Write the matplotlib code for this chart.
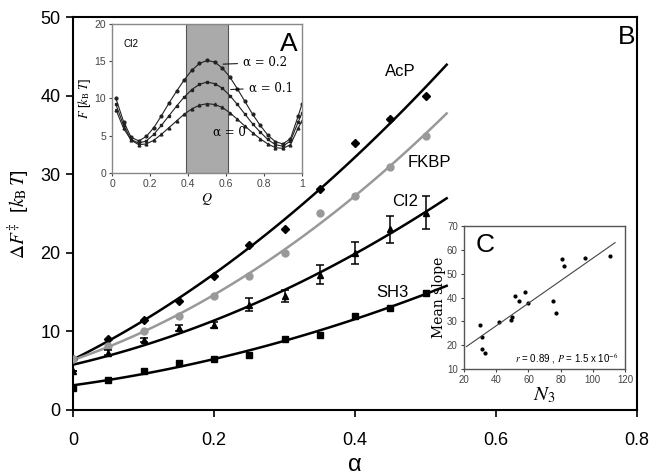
import numpy as np
import matplotlib
matplotlib.use('Agg')
import matplotlib.pyplot as plt
from matplotlib.patches import Rectangle

plt.rcParams['font.family'] = ['Liberation Sans', 'DejaVu Sans']
plt.rcParams['mathtext.fontset'] = 'stix'

# main panel B: barrier height vs alpha
alpha = [0, 0.05, 0.1, 0.15, 0.2, 0.25, 0.3, 0.35, 0.4, 0.45, 0.5]
acp = [6.5, 9.0, 11.5, 13.9, 17.0, 21.0, 23.0, 28.1, 34.0, 37.0, 40.0]
fkbp = [6.5, 8.1, 10.0, 12.0, 14.5, 17.0, 20.0, 25.1, 27.2, 31.0, 34.9]
ci2 = [5.0, 7.3, 8.9, 10.4, 10.8, 13.4, 14.5, 17.2, 20.0, 23.0, 25.1]
ci2_err = [0, 0.3, 0.3, 0.4, 0.4, 0.85, 0.75, 1.2, 1.4, 1.7, 2.1]
sh3 = [2.8, 3.8, 5.0, 6.0, 6.5, 7.0, 9.0, 9.5, 12.0, 13.0, 14.9]

# inset A: free energy profiles of CI2
q = [0.02, 0.06, 0.10, 0.14, 0.18, 0.22, 0.26, 0.30, 0.34, 0.38, 0.42, 0.46, 0.50,
     0.54, 0.58, 0.62, 0.66, 0.70, 0.74, 0.78, 0.82, 0.86, 0.90, 0.94, 0.98, 1.0]
f_a0 = [8.5, 6.0, 4.4, 3.8, 3.9, 4.4, 5.2, 6.1, 7.0, 7.9, 8.6, 9.1, 9.3,
        9.2, 8.8, 8.1, 7.2, 6.3, 5.4, 4.6, 3.9, 3.4, 3.3, 3.8, 6.0, 7.0]
f_a1 = [9.2, 6.4, 4.5, 4.0, 4.3, 5.2, 6.4, 7.7, 9.0, 10.2, 11.2, 11.9, 12.2,
        12.0, 11.4, 10.4, 9.2, 7.9, 6.6, 5.5, 4.5, 3.8, 3.6, 4.3, 6.8, 8.0]
f_a2 = [10.0, 6.9, 4.8, 4.3, 4.9, 6.1, 7.7, 9.4, 11.0, 12.5, 13.8, 14.7, 15.1,
        14.9, 14.1, 12.9, 11.3, 9.6, 7.9, 6.4, 5.1, 4.2, 3.9, 4.6, 7.6, 9.2]

# inset C: mean slope vs N3
n3 = [29.8, 31.4, 31.0, 32.9, 41.8, 48.9, 49.5, 51.5, 54.0, 57.8, 60.0,
      75.0, 76.9, 80.6, 82.2, 95.1, 110.7]
slope = [28.5, 23.6, 18.5, 16.7, 29.9, 30.6, 32.0, 40.6, 38.7, 42.4, 37.8,
         38.4, 33.4, 56.0, 53.2, 56.4, 57.3]

fig = plt.figure(figsize=(6.52, 4.76), dpi=100)
ax = fig.add_axes([0.112, 0.1387, 0.865, 0.825])

xs = np.linspace(0, 0.53, 120)
series = [(acp, 'black', 'D', 4.5), (fkbp, '#999999', 'o', 5),
          (ci2, 'black', '^', 5), (sh3, 'black', 's', 4.5)]
for vals, col, mk, ms in series:
    c = np.polyfit(alpha, vals, 2)
    ax.plot(xs, np.polyval(c, xs), color=col, lw=1.8, zorder=2)
    if vals is ci2:
        ax.errorbar(alpha, vals, yerr=ci2_err, fmt=mk, color=col, ms=ms,
                    capsize=3, elinewidth=1.1, capthick=1.1, zorder=3)
    else:
        ax.plot(alpha, vals, mk, color=col, ms=ms, zorder=3)

ax.text(0.464, 43.1, 'AcP', fontsize=12, ha='center', va='center')
ax.text(0.506, 31.5, 'FKBP', fontsize=12, ha='center', va='center')
ax.text(0.471, 26.6, 'CI2', fontsize=12, ha='center', va='center')
ax.text(0.453, 15.0, 'SH3', fontsize=12, ha='center', va='center')
ax.text(0.785, 47.5, 'B', fontsize=19, ha='center', va='center')

ax.set_xlim(0, 0.8)
ax.set_ylim(0, 50)
ax.set_xticks([0, 0.2, 0.4, 0.6, 0.8])
ax.set_xticklabels(['0', '0.2', '0.4', '0.6', '0.8'])
ax.set_yticks([0, 10, 20, 30, 40, 50])
ax.tick_params(direction='out', length=5, width=1.2, labelsize=13)
ax.tick_params(axis='x', pad=11)
ax.tick_params(axis='y', pad=4)
for s in ax.spines.values():
    s.set_linewidth(1.5)
ax.set_xlabel('α', fontsize=17)
ax.xaxis.set_label_coords(0.5, -0.112)
ax.set_ylabel(r'$\Delta F^{\ddagger}$  [$k_{\rm B}\,T$]', fontsize=14, labelpad=6)

# inset A
axa = fig.add_axes([0.172, 0.6366, 0.291, 0.313])
axa.add_patch(Rectangle((0.39, 0), 0.22, 20, facecolor='#aaaaaa',
                        edgecolor='#555555', lw=0.8, zorder=0))
axa.plot(q, f_a2, '-o', color='#222222', lw=0.8, ms=2)
axa.plot(q, f_a1, '-s', color='#222222', lw=0.8, ms=2)
axa.plot(q, f_a0, '-^', color='#222222', lw=0.8, ms=2)
axa.set_xlim(0, 1)
axa.set_ylim(0, 20)
axa.set_xticks([0, 0.2, 0.4, 0.6, 0.8, 1])
axa.set_xticklabels(['0', '0.2', '0.4', '0.6', '0.8', '1'])
axa.set_yticks([0, 5, 10, 15, 20])
axa.tick_params(labelsize=7.5, length=2.5, width=0.8, pad=2, colors='#444444')
for s in axa.spines.values():
    s.set_color('#888888')
    s.set_linewidth(1.0)
axa.set_xlabel(r'$Q$', fontsize=10, labelpad=1)
axa.set_ylabel(r'$F$ [$k_{\rm B}\ T$]', fontsize=9, labelpad=1)
axa.text(0.06, 17.3, 'CI2', fontsize=7, va='center')
axa.text(0.93, 17.3, 'A', fontsize=19, ha='center', va='center')
axa.annotate('α = 0.2', xy=(0.57, 14.6), xytext=(0.69, 14.8), fontsize=8.5,
             family='serif', va='center', arrowprops=dict(arrowstyle='-', lw=0.7))
axa.annotate('α = 0.1', xy=(0.61, 11.2), xytext=(0.72, 11.4), fontsize=8.5,
             family='serif', va='center', arrowprops=dict(arrowstyle='-', lw=0.7))
axa.text(0.53, 5.5, 'α = 0', fontsize=8.5, family='serif', va='center')

# inset C
axc = fig.add_axes([0.7117, 0.2248, 0.247, 0.3004])
axc.plot(n3, slope, 'o', color='black', ms=2)
k = np.polyfit(n3, slope, 1)
xl = np.array([21.5, 113.8])
axc.plot(xl, np.polyval(k, xl), color='#444444', lw=0.8)
axc.set_xlim(20, 120)
axc.set_ylim(10, 70)
axc.set_xticks([20, 40, 60, 80, 100, 120])
axc.set_yticks([10, 20, 30, 40, 50, 60, 70])
axc.tick_params(labelsize=7, length=2.5, width=0.8, pad=2, colors='#444444')
for s in axc.spines.values():
    s.set_color('#555555')
    s.set_linewidth(1.0)
axc.set_xlabel(r'$N_3$', fontsize=15, labelpad=0)
axc.set_ylabel('Mean slope', fontsize=10, family='serif', labelpad=1)
axc.text(27, 62, 'C', fontsize=19, va='center')
axc.text(116, 14.5, r'$r$ = 0.89 , $P$ = 1.5 x 10$^{-6}$', fontsize=7,
         ha='right', va='center')

fig.savefig('out.png', dpi=100)
